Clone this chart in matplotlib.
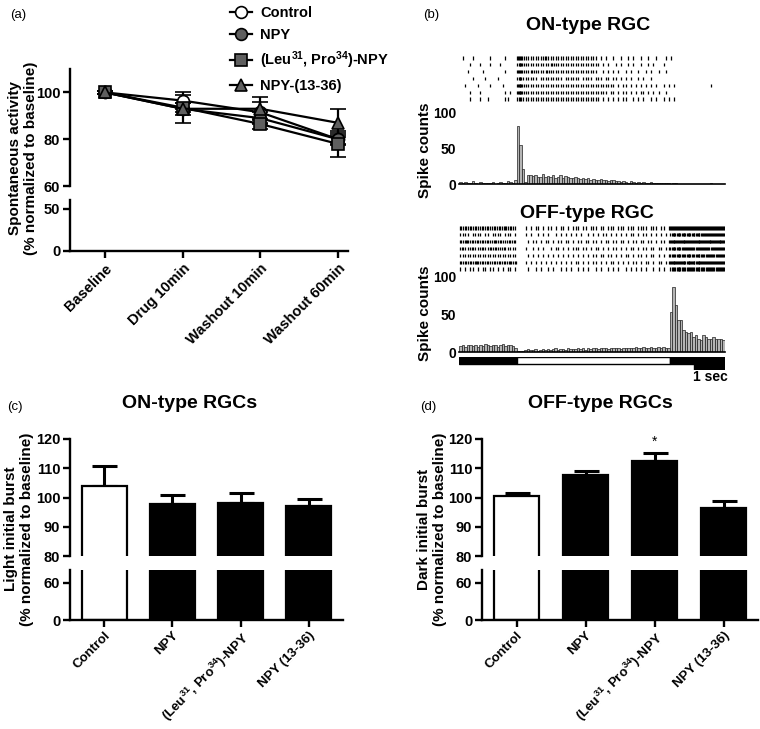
import numpy as np
import matplotlib
matplotlib.use("Agg")
import matplotlib.pyplot as plt
from matplotlib.patches import Rectangle

# ---------------- data ----------------
# (a) spontaneous activity, % of baseline
time_points = ["Baseline", "Drug 10min", "Washout 10min", "Washout 60min"]
control_a = [100, 96.5, 91.5, 80]
control_a_err = [0.8, 3.5, 4.5, 2.0]
npy_a = [100, 93, 89, 80]
npy_a_err = [0.8, 2.5, 2.5, 2.5]
leu_a = [100, 93.5, 86.5, 78]
leu_a_err = [0.8, 2.0, 2.0, 5.5]
frag_a = [100, 93, 93, 87]
frag_a_err = [0.8, 6.0, 5.0, 6.0]

# (c)/(d) initial bursts, % of baseline
drugs = ["Control", "NPY", r"(Leu$^{31}$, Pro$^{34}$)-NPY", "NPY (13-36)"]
on_burst = [104.0, 97.8, 98.2, 97.1]
on_burst_err = [6.8, 3.2, 3.2, 2.4]
off_burst = [100.5, 107.8, 112.6, 96.4]
off_burst_err = [1.0, 1.2, 2.7, 2.5]
off_signif = ["", "", "*", ""]

# (b) PSTH, 80 ms bins, 0 - 8.48 s
bin_w = 0.08
on_hist = [3, 2, 3, 1, 2, 4, 2, 0, 3, 1, 2, 2, 1, 3, 0, 2, 3, 1, 2, 4, 3, 2, 5,
           81, 54, 21, 3,
           13, 12, 11, 12, 10, 10, 14, 10, 11, 10, 13, 9, 10, 12, 9, 11, 10, 9, 8, 10, 8, 7, 9, 7, 8,
           6, 7, 5, 6, 7, 5, 6, 4, 5, 6, 4,
           4, 3, 4, 3, 2, 4, 3, 2, 3, 2, 3, 1, 2, 3, 2, 1, 2, 1, 2, 1, 1, 0, 1, 1, 0,
           0, 0, 0, 0, 0, 0, 0, 0, 0, 0, 0, 0, 2, 0, 0, 0, 0, 0]
off_hist = [8, 9, 7, 10, 9, 8, 10, 7, 9, 8, 11, 9, 8, 10, 9, 7, 10, 11, 8, 9, 10, 8, 6,
            2, 1, 1,
            3, 4, 3, 3, 4, 2, 3, 4, 3, 4, 3, 4, 5, 3, 4, 4, 3, 5, 4, 4,
            4, 5, 4, 5, 3, 5, 4, 6, 5, 4, 5, 6, 5, 4, 6, 5, 5, 6, 4, 6,
            5, 6, 6, 5, 7, 5, 6, 7, 5, 6, 7, 6, 5, 7, 6, 7, 6, 5,
            54, 87, 63, 43, 43, 30, 27, 25, 27, 20, 23, 18, 16, 23, 20, 18, 18, 20, 18, 17, 17, 16]

# raster: spikes per 80 ms bin, one string per trial
on_raster = [
    "0100010000 0010000010 0003221111 1111211111 1111111111 1111101010 0100100101 0010010010 0010100000 0000000000 000000",
    "0000100010 0010001000 0002321111 1111111211 1111111111 1111110101 0010100101 0010010100 0100000000 0000000000 000000",
    "0001000001 0000000010 0003221112 1111121111 1111111111 1111100101 0101001010 0100101001 0010000000 0000000000 000000",
    "0000010000 1000010000 0002311111 1011111111 1011111101 1110111011 0110101010 0101001000 0000000000 0000000000 000000",
    "0010000100 0010000100 0003321111 1111111111 1111111111 1111111111 1101011010 1010101010 0101010000 0000000000 100000",
    "0000100010 0000000010 1003321111 1111111111 1111111111 1111111110 1101011010 1011010101 0010000000 0000000000 000000",
    "0000100010 0100000011 0002211111 1111111111 1111111111 1111110101 0101011001 0101001010 0101010000 0000000000 000000",
]
off_raster = [
    "2121212112 1212121221 2110001010 1101011010 1101011101 1011101101 1101110111 0111101110 1101323232 3232323323 232323",
    "1111011110 1101111011 1010001010 0101010010 1010101010 0101010110 1010101011 0101101010 1010232323 2323232322 323232",
    "2122121212 1212212112 1210000101 1010110101 1011010110 1101101011 0110110101 1011011010 1101333233 3232333233 323332",
    "1211121112 1121211211 1110001001 0101001011 0101011101 1010110101 0110101011 0101101101 1011232322 3232223232 232322",
    "1111111111 1111111111 1110000101 0101010101 0101010101 0101101101 1010101101 0110101101 0101222322 2322232222 322232",
    "2121212212 1212121212 2120001010 1010101010 1010101101 0101101010 1101010101 1010110101 1011333233 2333233232 332323",
    "1010110101 1011010101 1010000100 1010010100 1010100101 0100101001 0101001010 1010100101 0100222322 2232232222 322232",
]
# light stimulus (start, end, colour) and 1 s scale bar
stim_segments = [(0.0, 1.84, "black"), (1.84, 6.72, "white"), (6.72, 8.48, "black")]
scale_bar = (7.48, 8.48)
t_end = 8.48

# ---------------- style ----------------
plt.rcParams['font.family'] = ['Liberation Sans', 'DejaVu Sans']
plt.rcParams['font.weight'] = 'bold'
plt.rcParams['axes.linewidth'] = 1.7
plt.rcParams['mathtext.fontset'] = 'custom'
plt.rcParams['mathtext.rm'] = 'Liberation Sans:bold'
plt.rcParams['mathtext.bf'] = 'Liberation Sans:bold'
plt.rcParams['mathtext.it'] = 'Liberation Sans:bold'
plt.rcParams['xtick.major.width'] = 1.7
plt.rcParams['ytick.major.width'] = 1.7
plt.rcParams['xtick.major.size'] = 5
plt.rcParams['ytick.major.size'] = 5
plt.rcParams['xtick.major.pad'] = 2.5
plt.rcParams['ytick.major.pad'] = 2
plt.rcParams['xtick.labelsize'] = 10.5
plt.rcParams['ytick.labelsize'] = 10.5

W, H = 760, 729
fig = plt.figure(figsize=(W / 100, H / 100), dpi=100)


def px(x0, y0, x1, y1):
    # pixel box (top-left origin) -> figure rect
    return [x0 / W, 1 - y1 / H, (x1 - x0) / W, (y1 - y0) / H]


def style_broken(top, bot, xs, labels, size=10.5):
    for s in ("top", "right", "bottom"):
        top.spines[s].set_visible(False)
    for s in ("top", "right"):
        bot.spines[s].set_visible(False)
    top.set_xticks([])
    bot.set_xticks(xs)
    bot.set_xticklabels(labels, rotation=45, ha="right", rotation_mode="anchor", fontsize=size)
    top.patch.set_alpha(0)
    bot.patch.set_alpha(0)


# ---------------- (a) ----------------
axa_t = fig.add_axes(px(70, 69, 348, 186))
axa_b = fig.add_axes(px(70, 200, 348, 251))
xs = np.arange(len(time_points))
series = [
    (control_a, control_a_err, "o", "white", "Control"),
    (npy_a, npy_a_err, "o", "#5f5f5f", "NPY"),
    (leu_a, leu_a_err, "s", "#5f5f5f", r"(Leu$^{31}$, Pro$^{34}$)-NPY"),
    (frag_a, frag_a_err, "^", "#5f5f5f", "NPY-(13-36)"),
]
handles = []
for ax in (axa_t, axa_b):
    for vals, errs, m, fc, lab in series:
        eb = ax.errorbar(xs, vals, yerr=errs, color="k", marker=m, mfc=fc, mec="k",
                         ms=8.5, mew=1.2, lw=1.6, capsize=6, capthick=1.6, elinewidth=1.6)
        if ax is axa_t:
            handles.append(eb[0])
    ax.set_xlim(-0.45, 3.13)
axa_t.set_ylim(60, 110)
axa_t.set_yticks([60, 80, 100])
axa_b.set_ylim(0, 60)
axa_b.set_yticks([0, 50])
style_broken(axa_t, axa_b, xs, time_points)
fig.text(23 / W, 1 - 158 / H, "Spontaneous activity\n(% normalized to baseline)",
         rotation=90, ha="center", va="center", fontsize=11, multialignment="center",
         linespacing=1.15)
fig.legend(handles, [s[4] for s in series], loc="upper left",
           bbox_to_anchor=(224 / W, 1 - 0 / H), frameon=False, fontsize=10.5,
           handlelength=1.5, handletextpad=0.6, labelspacing=0.55, borderaxespad=0)
fig.text(10 / W, 1 - 15 / H, "(a)", fontsize=9.5, fontweight="normal", va="center")

# ---------------- (b) ----------------
def raster(rect, rows):
    ax = fig.add_axes(px(*rect))
    trains = []
    for row in rows:
        counts = row.replace(" ", "")
        times = []
        for i, ch in enumerate(counts):
            n = int(ch)
            for k in range(n):
                times.append((i + (k + 0.5) / n) * bin_w)
        trains.append(times)
    ax.eventplot(trains, lineoffsets=list(range(len(rows), 0, -1)), linelengths=0.45,
                 colors="k", linewidths=0.9)
    ax.set_xlim(0, t_end)
    ax.set_ylim(0.5, len(rows) + 0.5)
    ax.axis("off")
    return ax


def psth(rect, counts):
    ax = fig.add_axes(px(*rect))
    edges = np.arange(len(counts)) * bin_w
    ax.bar(edges, counts, width=bin_w, align="edge", fc="#b5b5b5", ec="#202020", lw=0.5)
    ax.set_xlim(0, t_end)
    ax.set_ylim(0, 100)
    ax.set_yticks([0, 50, 100])
    ax.set_xticks([])
    for s in ("top", "right", "left"):
        ax.spines[s].set_visible(False)
    ax.spines["bottom"].set_linewidth(1.2)
    ax.tick_params(axis="y", length=0, pad=2, labelsize=10)
    ax.patch.set_alpha(0)
    return ax


fig.text(423 / W, 1 - 15 / H, "(b)", fontsize=9.5, fontweight="normal", va="center")
fig.text(588 / W, 1 - 25 / H, "ON-type RGC", fontsize=14, ha="center", va="center")
raster((459, 54.6, 725, 102.4), on_raster)
psth((459, 112, 725, 184), on_hist)
fig.text(425 / W, 1 - 150 / H, "Spike counts", rotation=90, ha="center", va="center", fontsize=11)

fig.text(587 / W, 1 - 213 / H, "OFF-type RGC", fontsize=14, ha="center", va="center")
raster((459, 224.6, 725, 272.4), off_raster)
psth((459, 277, 725, 352), off_hist)
fig.text(425 / W, 1 - 313 / H, "Spike counts", rotation=90, ha="center", va="center", fontsize=11)

ax_st = fig.add_axes(px(459, 357, 725, 370))
for s, e, c in stim_segments:
    ax_st.add_patch(Rectangle((s, 1), e - s, 1, fc=c, ec="k", lw=1))
ax_st.add_patch(Rectangle((scale_bar[0], 0), scale_bar[1] - scale_bar[0], 1, fc="k", ec="k", lw=1))
ax_st.set_xlim(0, t_end)
ax_st.set_ylim(0, 2)
ax_st.axis("off")
fig.text(710 / W, 1 - 377 / H, "1 sec", ha="center", va="center", fontsize=10)


# ---------------- (c) & (d) ----------------
def bar_panel(x0, x1, vals, errs, ylabel, ylab_x, title, title_x, letter, letter_x, marks=None):
    top = fig.add_axes(px(x0, 439, x1, 556))
    bot = fig.add_axes(px(x0, 570, x1, 620))
    pos = np.arange(len(vals))
    colors = ["white"] + ["black"] * (len(vals) - 1)
    for ax in (top, bot):
        ax.bar(pos, vals, width=0.66, color=colors, edgecolor="k", lw=1.6, zorder=2)
        ax.errorbar(pos, vals, yerr=[[0] * len(vals), errs], fmt="none", ecolor="k",
                    elinewidth=2.2, capsize=9, capthick=2.2, zorder=1)
        ax.set_xlim(-0.5, 3.5)
    top.set_ylim(80, 120)
    top.set_yticks([80, 90, 100, 110, 120])
    bot.set_ylim(0, 81)
    bot.set_yticks([0, 60])
    style_broken(top, bot, pos, drugs, size=9.5)
    bot.tick_params(axis="x", pad=1.5)
    if marks:
        for p, v, e, mk in zip(pos, vals, errs, marks):
            if mk:
                top.text(p, v + e + 1.2, mk, ha="center", va="bottom", fontsize=10, fontweight="normal")
    fig.text(ylab_x / W, 1 - 529 / H, ylabel, rotation=90, ha="center", va="center",
             fontsize=11, multialignment="center", linespacing=1.15)
    fig.text(title_x / W, 1 - 403 / H, title, fontsize=14, ha="center", va="center")
    fig.text(letter_x / W, 1 - 407 / H, letter, fontsize=9.5, fontweight="normal", va="center")


bar_panel(70, 343, on_burst, on_burst_err, "Light initial burst\n(% normalized to baseline)", 19,
          "ON-type RGCs", 190, "(c)", 7)
bar_panel(482, 758, off_burst, off_burst_err, "Dark initial burst\n(% normalized to baseline)", 432,
          "OFF-type RGCs", 600, "(d)", 420, marks=off_signif)

fig.savefig("out.png", dpi=100)
